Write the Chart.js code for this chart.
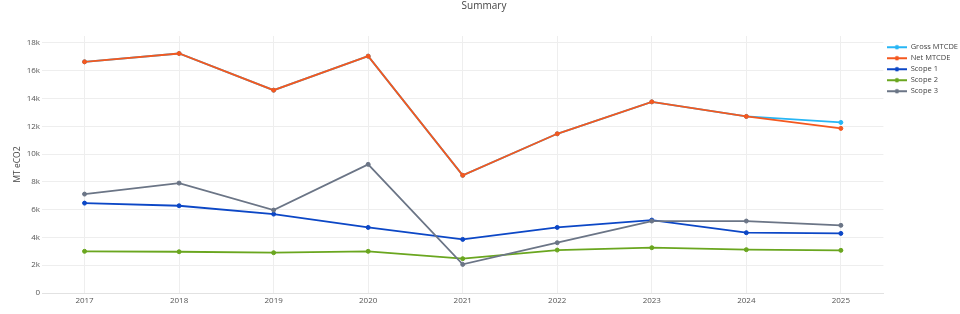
<!DOCTYPE html>
<html>
<head>
<meta charset="utf-8">
<script src="https://cdn.jsdelivr.net/npm/chart.js@4.4.1/dist/chart.umd.min.js"></script>
<style>
  html, body { margin: 0; padding: 0; background: #fff; }
  #wrap { width: 960px; height: 314px; }
</style>
</head>
<body>
<div id="wrap"><canvas id="myChart"></canvas></div>
<script>
const years = [2017, 2018, 2019, 2020, 2021, 2022, 2023, 2024, 2025];
const grossMtcde = [16640, 17240, 14600, 17050, 8470, 11460, 13760, 12710, 12280];
const netMtcde = [16640, 17240, 14600, 17050, 8470, 11460, 13760, 12710, 11850];
const scope1 = [6470, 6280, 5680, 4720, 3860, 4720, 5250, 4340, 4290];
const scope2 = [3000, 2970, 2900, 3000, 2470, 3090, 3260, 3120, 3070];
const scope3 = [7120, 7910, 5970, 9260, 2060, 3620, 5180, 5180, 4870];
const yTicks = [0, 2000, 4000, 6000, 8000, 10000, 12000, 14000, 16000, 18000];

const font = "'Open Sans', 'Noto Sans', sans-serif";

// small legend icon: line with a dot, like the original
function legendIcon(color) {
    const c = document.createElement('canvas');
    c.width = 20;
    c.height = 6;
    const g = c.getContext('2d');
    g.strokeStyle = color;
    g.lineWidth = 2;
    g.beginPath();
    g.moveTo(0, 3);
    g.lineTo(20, 3);
    g.stroke();
    g.fillStyle = color;
    g.beginPath();
    g.arc(10, 3, 2.2, 0, Math.PI * 2);
    g.fill();
    return c;
}

function series(label, values, color, order) {
    return {
        label: label,
        data: values.map((v, i) => ({x: years[i], y: v})),
        borderColor: color,
        backgroundColor: color,
        pointStyle: 'circle',
        pointRadius: 2,
        pointBorderWidth: 1,
        pointHoverRadius: 2,
        borderWidth: 1.8,
        tension: 0,
        fill: false,
        order: order,
        icon: legendIcon(color)
    };
}

const ctx = document.getElementById('myChart');

new Chart(ctx, {
    type: 'line',
    data: {
        datasets: [
            series('Gross MTCDE', grossMtcde, '#27b6f5', 5),
            series('Net MTCDE', netMtcde, '#f4581f', 4),
            series('Scope 1', scope1, '#0c47c6', 3),
            series('Scope 2', scope2, '#6aa61f', 2),
            series('Scope 3', scope3, '#6b7586', 1)
        ]
    },
    options: {
        responsive: true,
        maintainAspectRatio: false,
        animation: false,
        layout: {padding: {left: 0, right: -8, top: 0, bottom: 0}},
        plugins: {
            title: {
                display: true,
                text: 'Summary',
                color: '#444',
                font: {family: font, size: 10, weight: 'normal'},
                padding: {top: 0, bottom: 24}
            },
            legend: {
                position: 'right',
                align: 'start',
                title: {
                    display: true,
                    text: '',
                    font: {size: 10},
                    padding: {top: 0, bottom: 28}
                },
                labels: {
                    color: '#444',
                    font: {family: font, size: 7.5},
                    usePointStyle: true,
                    pointStyleWidth: 20,
                    boxHeight: 7,
                    padding: 3.5,
                    sort: (a, b) => a.datasetIndex - b.datasetIndex,
                    generateLabels: (chart) => chart.data.datasets.map((ds, i) => ({
                        text: ds.label,
                        fillStyle: ds.borderColor,
                        strokeStyle: ds.borderColor,
                        pointStyle: ds.icon,
                        lineWidth: 0,
                        hidden: false,
                        fontColor: '#444',
                        datasetIndex: i
                    }))
                }
            },
            tooltip: {enabled: false}
        },
        scales: {
            x: {
                type: 'linear',
                min: 2016.55,
                max: 2025.45,
                afterBuildTicks: (axis) => { axis.ticks = years.map(v => ({value: v})); },
                afterFit: (axis) => { axis.height = 21; },
                ticks: {
                    color: '#555',
                    font: {family: font, size: 8},
                    padding: 3,
                    maxRotation: 0,
                    callback: (v) => String(v)
                },
                grid: {color: '#eeeeee', drawTicks: false},
                border: {display: true, color: '#e2e2e2'}
            },
            y: {
                min: 0,
                max: 18500,
                afterBuildTicks: (axis) => { axis.ticks = yTicks.map(v => ({value: v})); },
                afterFit: (axis) => { axis.width = 42; },
                ticks: {
                    color: '#555',
                    font: {family: font, size: 8},
                    padding: 2,
                    callback: (v) => v === 0 ? '0' : (v / 1000) + 'k'
                },
                grid: {color: '#eeeeee', drawTicks: false},
                border: {display: false},
                title: {
                    display: true,
                    text: 'MT eCO2',
                    color: '#444',
                    font: {family: font, size: 8.5},
                    padding: {top: 12, bottom: 0}
                }
            }
        }
    }
});
</script>
</body>
</html>
